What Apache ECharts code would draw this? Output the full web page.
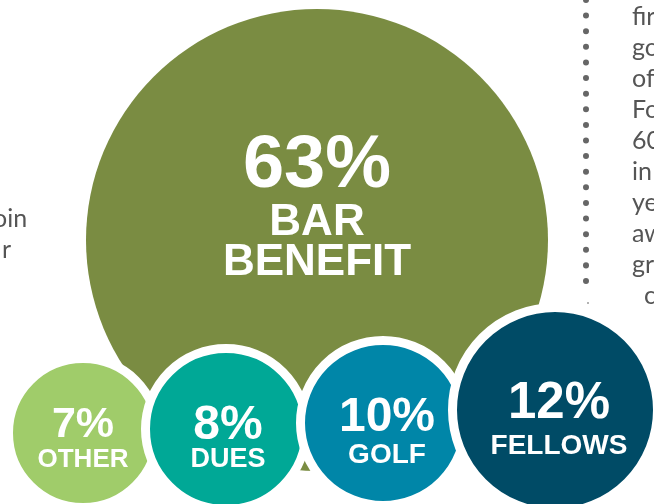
<!DOCTYPE html>
<html>
<head>
<meta charset="utf-8">
<script src="https://cdn.jsdelivr.net/npm/echarts@6/dist/echarts.min.js"></script>
<style>
  html, body { margin: 0; padding: 0; background: #ffffff; }
  #chart { width: 654px; height: 504px; }
</style>
</head>
<body>
<div id="chart"></div>
<script>
// ---- data ----
const categories = ['BAR BENEFIT', 'OTHER', 'DUES', 'GOLF', 'FELLOWS'];
const shares = [63, 7, 8, 10, 12];
const leftTextFragments = ['oin', 'r'];
const rightTextFragments = ['fir', 'go', 'of', 'Fo', '60', 'in', 'ye', 'aw', 'gr', 'c'];

// ---- layout / style (not data) ----
const colors = ['#7a8c42', '#a0cc6a', '#00a896', '#0086a8', '#004b66'];
const bubbleLayout = [
  { center: [317, 240], r: 231, ring: 0, pf: 74, pl: 72, nf: 44, nl: 40, dx: 0,  dy: -33 },
  { center: [83, 433],  r: 70,  ring: 9, pf: 43, pl: 42, nf: 26, nl: 28, dx: 0,  dy: 6 },
  { center: [226, 429], r: 76,  ring: 9, pf: 48, pl: 40, nf: 27, nl: 28, dx: 2,  dy: 11 },
  { center: [383, 423], r: 78,  ring: 9, pf: 48, pl: 47, nf: 28, nl: 28, dx: 4,  dy: 9 },
  { center: [555, 410], r: 98,  ring: 9, pf: 51, pl: 56, nf: 28, nl: 28, dx: 4,  dy: 8 }
];
const labelFont = '"Liberation Sans", Arial, sans-serif';
const bodyFont = 'Lato, "Open Sans", sans-serif';

const series = categories.map((name, i) => {
  const L = bubbleLayout[i];
  return {
    type: 'pie',
    silent: true,
    animation: false,
    center: L.center,
    radius: [0, L.r + L.ring / 2],
    startAngle: 90,
    itemStyle: {
      color: colors[i],
      borderColor: '#ffffff',
      borderWidth: L.ring
    },
    label: {
      show: true,
      position: 'center',
      formatter: p => '{v|' + p.value + '%}\n' + p.name.split(' ').map(s => '{n|' + s + '}').join('\n'),
      rich: {
        v: { fontFamily: labelFont, fontWeight: 'bold', fontSize: L.pf, lineHeight: L.pl, color: '#ffffff', align: 'center' },
        n: { fontFamily: labelFont, fontWeight: 'bold', fontSize: L.nf, lineHeight: L.nl, color: '#ffffff', align: 'center' }
      }
    },
    labelLayout: { dx: L.dx, dy: L.dy },
    labelLine: { show: false },
    data: [{ name: name, value: shares[i] }]
  };
});

const graphics = [];
// dotted divider
graphics.push({
  type: 'line',
  silent: true,
  shape: { x1: 586, y1: 0, x2: 586, y2: 292 },
  style: { stroke: '#666666', lineWidth: 6, lineCap: 'round', lineDash: [0.01, 15.6] },
  z: 1
});
graphics.push({
  type: 'circle', silent: true,
  shape: { cx: 588, cy: 303, r: 1 },
  style: { fill: '#9a9a9a' }
});
// left paragraph fragments
leftTextFragments.forEach((t, i) => {
  graphics.push({
    type: 'text', silent: true,
    left: i === 0 ? -13 : 2,
    top: 206 + i * 31,
    style: { text: i === 0 ? 'j' + t : t, fill: '#555555', font: '25px ' + bodyFont }
  });
});
// right paragraph fragments
rightTextFragments.forEach((t, i) => {
  graphics.push({
    type: 'text', silent: true,
    left: i === rightTextFragments.length - 1 ? 644 : 632,
    top: 4 + i * 31,
    style: { text: t, fill: '#555555', font: '25px ' + bodyFont }
  });
});

const chart = echarts.init(document.getElementById('chart'), null, { renderer: 'canvas' });
chart.setOption({
  backgroundColor: '#ffffff',
  animation: false,
  series: series,
  graphic: graphics
});
</script>
</body>
</html>
